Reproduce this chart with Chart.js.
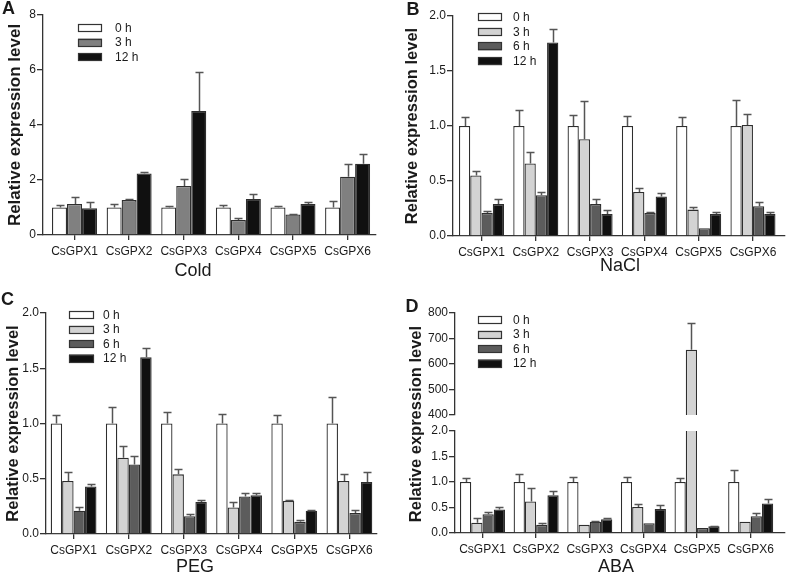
<!DOCTYPE html>
<html>
<head>
<meta charset="utf-8">
<script src="https://cdn.jsdelivr.net/npm/chart.js@4.4.1/dist/chart.umd.min.js"></script>
<style>
  html, body { margin: 0; padding: 0; background: #fff; }
  #wrap { position: relative; width: 787px; height: 579px; overflow: hidden; font-family: "Liberation Sans", Arial, sans-serif; color: #1a1a1a; }
  canvas { position: absolute; }
  .lbl { position: absolute; transform: translate(-50%, -50%); line-height: 1; white-space: nowrap; }
  .letter { font-weight: bold; font-size: 18px; }
  .xt { font-size: 18px; }
  .yt { font-weight: bold; font-size: 16.5px; transform: translate(-50%, -50%) rotate(-90deg); }
</style>
</head>
<body>
<div id="wrap">
  <canvas id="cA" width="393" height="290" style="left:0;top:0;"></canvas>
  <canvas id="cB" width="394" height="290" style="left:393px;top:0;"></canvas>
  <canvas id="cC" width="393" height="290" style="left:0;top:289px;"></canvas>
  <canvas id="cDlow" width="394" height="290" style="left:393px;top:289px;"></canvas>
  <canvas id="cDhigh" width="394" height="290" style="left:393px;top:289px;"></canvas>
  <div class="lbl letter" style="left:8.5px;top:8px;">A</div>
  <div class="lbl letter" style="left:413px;top:9px;">B</div>
  <div class="lbl letter" style="left:7.5px;top:299px;">C</div>
  <div class="lbl letter" style="left:412px;top:306px;">D</div>
  <div class="lbl xt" style="left:193px;top:270px;">Cold</div>
  <div class="lbl xt" style="left:620px;top:265px;">NaCl</div>
  <div class="lbl xt" style="left:195px;top:566px;">PEG</div>
  <div class="lbl xt" style="left:616px;top:566px;">ABA</div>
  <div class="lbl yt" style="left:414.5px;top:424px;">Relative expression level</div>
</div>
<script>
// ---------- data ----------
const genes = ['CsGPX1', 'CsGPX2', 'CsGPX3', 'CsGPX4', 'CsGPX5', 'CsGPX6'];
const seriesCold = ['0 h', '3 h', '12 h'];
const seriesStress = ['0 h', '3 h', '6 h', '12 h'];

// Cold
const cold0h = [1, 1, 1, 1, 1, 1];
const cold0hErr = [0.08, 0.13, 0.07, 0.08, 0.07, 0.24];
const cold3h = [1.13, 1.27, 1.78, 0.55, 0.75, 2.12];
const cold3hErr = [0.27, 0.03, 0.26, 0.06, 0.03, 0.45];
const cold12h = [0.97, 2.24, 4.51, 1.31, 1.13, 2.59];
const cold12hErr = [0.23, 0.06, 1.43, 0.17, 0.08, 0.34];

// NaCl
const nacl0h = [1, 1, 1, 1, 1, 1];
const nacl0hErr = [0.08, 0.15, 0.10, 0.09, 0.08, 0.24];
const nacl3h = [0.55, 0.66, 0.88, 0.40, 0.24, 1.01];
const nacl3hErr = [0.04, 0.10, 0.35, 0.04, 0.02, 0.10];
const nacl6h = [0.21, 0.37, 0.29, 0.21, 0.07, 0.27];
const nacl6hErr = [0.02, 0.03, 0.05, 0.005, 0, 0.04];
const nacl12h = [0.29, 1.76, 0.20, 0.36, 0.20, 0.20];
const nacl12hErr = [0.05, 0.12, 0.04, 0.03, 0.02, 0.02];

// PEG
const peg0h = [1, 1, 1, 1, 1, 1];
const peg0hErr = [0.08, 0.15, 0.10, 0.09, 0.08, 0.24];
const peg3h = [0.48, 0.69, 0.54, 0.24, 0.30, 0.48];
const peg3hErr = [0.08, 0.11, 0.05, 0.05, 0.01, 0.06];
const peg6h = [0.21, 0.63, 0.16, 0.34, 0.11, 0.19];
const peg6hErr = [0.03, 0.08, 0.02, 0.03, 0.015, 0.03];
const peg12h = [0.43, 1.60, 0.29, 0.35, 0.21, 0.47];
const peg12hErr = [0.025, 0.08, 0.02, 0.02, 0.01, 0.09];

// ABA
const aba0h = [1, 1, 1, 1, 1, 1];
const aba0hErr = [0.08, 0.15, 0.10, 0.09, 0.08, 0.24];
const aba3h = [0.20, 0.62, 0.16, 0.51, 656, 0.22];
const aba3hErr = [0.10, 0.27, 0, 0.05, 103, 0];
const aba6h = [0.37, 0.16, 0.22, 0.19, 0.10, 0.33];
const aba6hErr = [0.04, 0.03, 0.01, 0, 0, 0.06];
const aba12h = [0.46, 0.74, 0.27, 0.47, 0.13, 0.58];
const aba12hErr = [0.05, 0.08, 0.03, 0.08, 0.01, 0.08];

// tick labels
const yTicksCold = [0, 2, 4, 6, 8];
const yLabelsCold = ['0', '2', '4', '6', '8'];
const yTicksLow = [0, 0.5, 1, 1.5, 2];
const yLabelsLow = ['0.0', '0.5', '1.0', '1.5', '2.0'];
const yTicksHigh = [400, 500, 600, 700, 800];
const yLabelsHigh = ['400', '500', '600', '700', '800'];

// ---------- styles ----------
const FONT = '"Liberation Sans", Arial, sans-serif';
const AX = '#333333';
const TXT = '#1a1a1a';
const colWhite = '#ffffff', colLight = '#d3d3d3', colMid = '#808080', colDark = '#5c5c5c', colBlack = '#101010';

// ---------- plugins ----------
// widen the category axis range a little beyond the outer groups
const catPad = {
  id: 'catPad',
  afterLayout(chart, args, o) {
    if (!o || (!o.l && !o.r)) return;
    const s = chart.scales.x;
    s._startValue -= o.l;
    s._valueRange += o.l + o.r;
  }
};

const errorBars = {
  id: 'errorBars',
  afterDatasetsDraw(chart) {
    const ctx = chart.ctx, area = chart.chartArea, ys = chart.scales.y;
    ctx.save();
    ctx.beginPath();
    ctx.rect(area.left, area.top - 2, area.right - area.left, area.bottom - area.top + 2);
    ctx.clip();
    ctx.strokeStyle = '#555555';
    ctx.lineWidth = 1.5;
    chart.data.datasets.forEach((ds, di) => {
      const meta = chart.getDatasetMeta(di);
      (ds.errors || []).forEach((e, i) => {
        const v = ds.data[i];
        if (!e || v > ys.max || v < ys.min) return;
        const bar = meta.data[i];
        const x = Math.round(bar.x) + 0.5;
        const y0 = ys.getPixelForValue(v);
        const y1 = Math.round(ys.getPixelForValue(v + e)) + 0.5;
        ctx.beginPath();
        ctx.moveTo(x, y0); ctx.lineTo(x, y1);
        ctx.moveTo(x - 4, y1); ctx.lineTo(x + 4, y1);
        ctx.stroke();
      });
    });
    ctx.restore();
  }
};

const boxLegend = {
  id: 'boxLegend',
  afterDraw(chart, args, o) {
    if (!o || !o.show) return;
    const ctx = chart.ctx;
    ctx.save();
    chart.data.datasets.forEach((ds, i) => {
      const y = o.y + i * o.rowH;
      ctx.fillStyle = ds.backgroundColor;
      ctx.fillRect(o.x, y, o.boxW, o.boxH);
      ctx.strokeStyle = '#333';
      ctx.lineWidth = 1.2;
      ctx.strokeRect(Math.round(o.x) + 0.5, Math.round(y) + 0.5, o.boxW - 1, o.boxH - 1);
      ctx.fillStyle = TXT;
      ctx.font = '12px ' + FONT;
      ctx.textBaseline = 'middle';
      ctx.textAlign = 'left';
      ctx.fillText(ds.label, o.x + o.textDx, y + o.boxH / 2 + 0.5);
    });
    ctx.restore();
  }
};

function ds(label, data, errors, color, catPct) {
  return { label, data, errors, backgroundColor: color, borderColor: '#2e2e2e', borderWidth: 1.3,
           categoryPercentage: catPct, barPercentage: 1.0 };
}

function makeChart(id, datasets, cfg) {
  const y = {
    min: cfg.ticks[0], max: cfg.ticks[cfg.ticks.length - 1],
    afterBuildTicks: s => { s.ticks = cfg.ticks.map(v => ({ value: v })); },
    afterFit: s => { s.width = cfg.yWidth; },
    border: { display: true, color: AX, width: 1.3 },
    grid: { display: true, drawOnChartArea: false, drawTicks: true, tickLength: 6, color: AX, lineWidth: 1.3 },
    ticks: { color: TXT, font: { family: FONT, size: 12 }, padding: 1,
             callback: (v, i) => cfg.labels[i] },
    title: cfg.yTitle ? { display: true, text: 'Relative expression level', color: TXT,
             font: { family: FONT, size: cfg.yTitleSize, weight: 'bold', lineHeight: 1.2 },
             padding: { top: cfg.yTitlePad, bottom: 0 } } : { display: false }
  };
  const x = {
    display: cfg.xDisplay !== false,
    offset: true,
    afterFit: s => { s.height = cfg.xHeight || 0; },
    border: { display: true, color: AX, width: 1.3 },
    grid: { display: true, offset: false, drawOnChartArea: false, drawTicks: true, tickLength: 5, color: AX, lineWidth: 1.3 },
    ticks: { color: TXT, font: { family: FONT, size: 12 }, padding: 4, maxRotation: 0, autoSkip: false }
  };
  return new Chart(document.getElementById(id), {
    type: 'bar',
    data: { labels: genes, datasets },
    options: {
      responsive: false, animation: false, devicePixelRatio: 1,
      layout: { padding: cfg.pad },
      plugins: { legend: { display: false }, tooltip: { enabled: false },
                 boxLegend: cfg.legend || { show: false },
                 catPad: cfg.catPad || { l: 0, r: 0 } },
      scales: { x, y }
    },
    plugins: [catPad, errorBars, boxLegend]
  });
}

// Panel A: Cold
makeChart('cA', [
  ds(seriesCold[0], cold0h, cold0hErr, colWhite, 0.824),
  ds(seriesCold[1], cold3h, cold3hErr, colMid, 0.824),
  ds(seriesCold[2], cold12h, cold12hErr, colBlack, 0.824)
], { ticks: yTicksCold, labels: yLabelsCold, yWidth: 43, xHeight: 55, yTitle: true, yTitleSize: 17, yTitlePad: 5,
     pad: { top: 15, right: 17, bottom: 0, left: 0 }, catPad: { l: 0.077, r: 0.02 },
     legend: { show: true, x: 78, y: 24, rowH: 14.5, boxW: 24, boxH: 8, textDx: 37 } });

// Panel B: NaCl
makeChart('cB', [
  ds(seriesStress[0], nacl0h, nacl0hErr, colWhite, 0.83),
  ds(seriesStress[1], nacl3h, nacl3hErr, colLight, 0.83),
  ds(seriesStress[2], nacl6h, nacl6hErr, colDark, 0.83),
  ds(seriesStress[3], nacl12h, nacl12hErr, colBlack, 0.83)
], { ticks: yTicksLow, labels: yLabelsLow, yWidth: 60, xHeight: 54, yTitle: true, yTitleSize: 16.5, yTitlePad: 9.5,
     pad: { top: 16, right: 2, bottom: 0, left: 0 }, catPad: { l: 0.025, r: 0.09 },
     legend: { show: true, x: 85, y: 13, rowH: 14.7, boxW: 24, boxH: 8, textDx: 35 } });

// Panel C: PEG
makeChart('cC', [
  ds(seriesStress[0], peg0h, peg0hErr, colWhite, 0.83),
  ds(seriesStress[1], peg3h, peg3hErr, colLight, 0.83),
  ds(seriesStress[2], peg6h, peg6hErr, colDark, 0.83),
  ds(seriesStress[3], peg12h, peg12hErr, colBlack, 0.83)
], { ticks: yTicksLow, labels: yLabelsLow, yWidth: 46, xHeight: 45, yTitle: true, yTitleSize: 16.5, yTitlePad: 4,
     pad: { top: 24, right: 16, bottom: 0, left: 0 },
     legend: { show: true, x: 69, y: 22, rowH: 14.5, boxW: 25, boxH: 8, textDx: 34 } });

// Panel D: ABA (broken axis: low part 0-2, high part 400-800)
const abaSets = () => [
  ds(seriesStress[0], aba0h, aba0hErr, colWhite, 0.84),
  ds(seriesStress[1], aba3h, aba3hErr, colLight, 0.84),
  ds(seriesStress[2], aba6h, aba6hErr, colDark, 0.84),
  ds(seriesStress[3], aba12h, aba12hErr, colBlack, 0.84)
];
makeChart('cDlow', abaSets(),
  { ticks: yTicksLow, labels: yLabelsLow, yWidth: 62, xHeight: 46, yTitle: false,
    pad: { top: 142, right: 2, bottom: 0, left: 0 }, catPad: { l: 0.013, r: 0.14 } });
makeChart('cDhigh', abaSets(),
  { ticks: yTicksHigh, labels: yLabelsHigh, yWidth: 62, xDisplay: false, yTitle: false,
    pad: { top: 24, right: 2, bottom: 164, left: 0 }, catPad: { l: 0.013, r: 0.14 },
    legend: { show: true, x: 85, y: 27, rowH: 14.5, boxW: 24, boxH: 8, textDx: 35 } });
</script>
</body>
</html>
